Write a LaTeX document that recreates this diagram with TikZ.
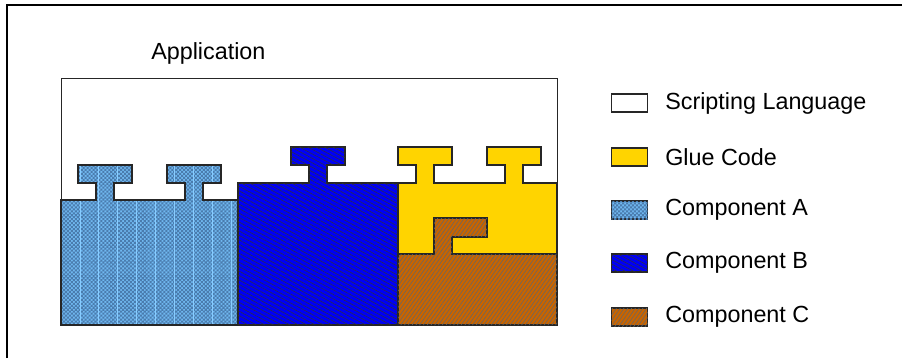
\documentclass[tikz,border=0pt]{standalone}
\usepackage{fontspec}
\setmainfont{Liberation Sans}
\usepackage{xcolor}
\usepackage{tikz}
\usetikzlibrary{patterns, patterns.meta, positioning}

\definecolor{glueyellow}{HTML}{FFD400}
\definecolor{compAblue}{HTML}{70B8F0}
\definecolor{compAdark}{HTML}{4A7CAE}
\definecolor{compAline}{HTML}{88CCFF}
\definecolor{compBblue}{HTML}{0000F4}
\definecolor{compCbrown}{HTML}{C86400}

\pgfdeclarepatternformonly{finechecker}{\pgfqpoint{-0.1pt}{-0.1pt}}{\pgfqpoint{2.9pt}{2.9pt}}{\pgfqpoint{2.8pt}{2.8pt}}{
  \pgfpathrectangle{\pgfpointorigin}{\pgfqpoint{1.45pt}{1.45pt}}
  \pgfpathrectangle{\pgfqpoint{1.4pt}{1.4pt}}{\pgfqpoint{1.45pt}{1.45pt}}
  \pgfusepath{fill}
}

\begin{document}
\begin{tikzpicture}[
    x=0.025cm, y=-0.025cm,
    label/.style={font=\fontsize{16.6}{20}\selectfont, inner sep=0pt},
    part/.style={draw=black!85, line width=0.8pt, line join=miter},
    scriptpart/.style={part, fill=white},
    gluepart/.style={part, fill=glueyellow},
    partA/.style={part, fill=compAblue, postaction={pattern=finechecker, pattern color=compAdark}},
    partB/.style={part, fill=compBblue, postaction={pattern={Lines[angle=-28, distance=2.8pt, line width=0.35pt]}, pattern color=black!80}},
    partC/.style={part, fill=compCbrown, postaction={pattern={Lines[angle=55, distance=2.2pt, line width=0.4pt]}, pattern color=black!60}},
    legbox/.style={minimum width=0.9cm, minimum height=0.45cm, inner sep=0pt, anchor=west},
]
\useasboundingbox (0,0) rectangle (902,358);

% frame
\draw[line width=1.2pt] (7,358) -- (7,5) -- (902,5);

% application area
\node[label, anchor=west] (app) at (151,53) {Application};
\node[draw=black!85, line width=0.8pt, minimum width=12.4cm, minimum height=6.175cm, inner sep=0pt, anchor=north west] (appbox) at (61,78) {};

% component A with two pegs
\draw[partA] (61,325) -- (61,200) -- (96,200) -- (96,183) -- (78,183) -- (78,165) -- (132,165) -- (132,183)
    -- (114,183) -- (114,200) -- (185,200) -- (185,183) -- (167,183) -- (167,165) -- (221,165) -- (221,183)
    -- (203,183) -- (203,200) -- (238,200) -- (238,325) -- cycle;
\begin{scope}
  \clip (61,325) -- (61,200) -- (96,200) -- (96,183) -- (78,183) -- (78,165) -- (132,165) -- (132,183)
    -- (114,183) -- (114,200) -- (185,200) -- (185,183) -- (167,183) -- (167,165) -- (221,165) -- (221,183)
    -- (203,183) -- (203,200) -- (238,200) -- (238,325) -- cycle;
  \foreach \x in {80,98,117,136,155,174,193,212,231}
    \draw[compAline, line width=0.6pt] (\x,160) -- (\x,325);
\end{scope}
\draw[part] (61,325) -- (61,200) -- (96,200) -- (96,183) -- (78,183) -- (78,165) -- (132,165) -- (132,183)
    -- (114,183) -- (114,200) -- (185,200) -- (185,183) -- (167,183) -- (167,165) -- (221,165) -- (221,183)
    -- (203,183) -- (203,200) -- (238,200) -- (238,325) -- cycle;

% component B
\draw[partB] (238,325) -- (238,183) -- (309,183) -- (309,165) -- (291,165) -- (291,147) -- (345,147)
    -- (345,165) -- (327,165) -- (327,183) -- (398,183) -- (398,325) -- cycle;

% glue code
\draw[gluepart] (398,254) -- (398,183) -- (416,183) -- (416,165) -- (398,165) -- (398,147) -- (452,147)
    -- (452,165) -- (434,165) -- (434,183) -- (505,183) -- (505,165) -- (487,165) -- (487,147) -- (541,147)
    -- (541,165) -- (523,165) -- (523,183) -- (557,183) -- (557,254) -- cycle;

% component C
\draw[partC] (398,325) -- (398,254) -- (434,254) -- (434,218) -- (487,218) -- (487,237) -- (452,237)
    -- (452,254) -- (557,254) -- (557,325) -- cycle;

% legend
\node[legbox, scriptpart] (keyS) at (611,103) {};
\node[legbox, gluepart] (keyG) at (611,157) {};
\node[legbox, partA] (keyA) at (611,210) {};
\node[legbox, partB] (keyB) at (611,263) {};
\node[legbox, partC] (keyC) at (611,317) {};

\node[label, anchor=west] (txtS) at (665,103) {Scripting Language};
\node[label, anchor=west] (txtG) at (665,157) {Glue Code};
\node[label, anchor=west] (txtA) at (665,210) {Component A};
\node[label, anchor=west] (txtB) at (665,263) {Component B};
\node[label, anchor=west] (txtC) at (665,317) {Component C};

\end{tikzpicture}
\end{document}
